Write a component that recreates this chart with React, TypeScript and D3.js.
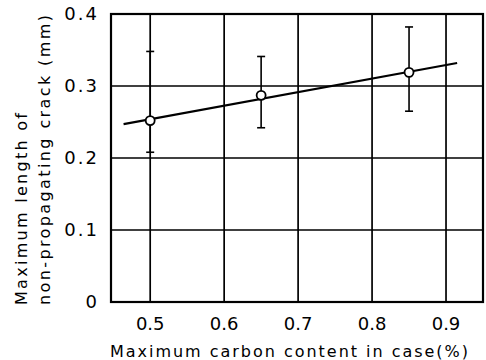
import React, { useEffect, useRef } from 'react';
import * as d3 from 'd3';

// carbon content (%) and measured crack length (mm)
const carbon = [0.5, 0.65, 0.85];
const crackMean = [0.252, 0.287, 0.319];
const crackHigh = [0.348, 0.341, 0.382];
const crackLow = [0.208, 0.242, 0.265];

// regression line end points
const fitX = [0.464, 0.915];
const fitY = [0.247, 0.332];

const xTicks = [0.5, 0.6, 0.7, 0.8, 0.9];
const yTicks = [0, 0.1, 0.2, 0.3, 0.4];
const yTickLabels = ['0', '0.1', '0.2', '0.3', '0.4'];

const xTitle = 'Maximum carbon content in case(%)';
const yTitle = ['Maximum length of', 'non-propagating crack (mm)'];

const FONT = '"DejaVu Sans", sans-serif';

const App = () => {
  const svgRef = useRef<SVGSVGElement>(null);

  useEffect(() => {
    const width = 486;
    const height = 360;
    const margin = { top: 14, right: 3, bottom: 58, left: 111 };

    const svg = d3.select(svgRef.current);
    svg.selectAll('*').remove();

    const x = d3.scaleLinear().domain([0.447, 0.95]).range([margin.left, width - margin.right]);
    const y = d3.scaleLinear().domain([0, 0.4]).range([height - margin.bottom, margin.top]);

    const g = svg.append('g');

    // grid
    g.selectAll('line.vgrid')
      .data(xTicks)
      .enter()
      .append('line')
      .attr('x1', d => x(d))
      .attr('x2', d => x(d))
      .attr('y1', y(0))
      .attr('y2', y(0.4))
      .attr('stroke', '#000')
      .attr('stroke-width', 1.7);

    g.selectAll('line.hgrid')
      .data(yTicks.slice(1, -1))
      .enter()
      .append('line')
      .attr('x1', x.range()[0])
      .attr('x2', x.range()[1])
      .attr('y1', d => y(d))
      .attr('y2', d => y(d))
      .attr('stroke', '#000')
      .attr('stroke-width', 1.5);

    // frame
    g.append('rect')
      .attr('x', x.range()[0])
      .attr('y', y(0.4))
      .attr('width', x.range()[1] - x.range()[0])
      .attr('height', y(0) - y(0.4))
      .attr('fill', 'none')
      .attr('stroke', '#000')
      .attr('stroke-width', 2.2);

    // tick labels
    g.selectAll('text.xt')
      .data(xTicks)
      .enter()
      .append('text')
      .attr('x', d => x(d))
      .attr('y', 330)
      .attr('text-anchor', 'middle')
      .style('font-family', FONT)
      .style('font-size', '18px')
      .style('fill', '#000')
      .text(d => d.toFixed(1));

    g.selectAll('text.yt')
      .data(yTicks)
      .enter()
      .append('text')
      .attr('x', 99)
      .attr('y', d => y(d))
      .attr('dy', '0.36em')
      .attr('text-anchor', 'end')
      .style('font-family', FONT)
      .style('font-size', '18px')
      .style('letter-spacing', '2px')
      .style('fill', '#000')
      .text((d, i) => yTickLabels[i]);

    // fitted line
    const line = d3.line<number>()
      .x(d => x(d))
      .y((d, i) => y(fitY[i]));
    g.append('path')
      .attr('d', line(fitX))
      .attr('fill', 'none')
      .attr('stroke', '#000')
      .attr('stroke-width', 2.2);

    // error bars
    carbon.forEach((c, i) => {
      const cx = x(c);
      g.append('line')
        .attr('x1', cx).attr('x2', cx)
        .attr('y1', y(crackLow[i])).attr('y2', y(crackHigh[i]))
        .attr('stroke', '#000').attr('stroke-width', 1.6);
      [crackLow[i], crackHigh[i]].forEach(v => {
        g.append('line')
          .attr('x1', cx - 4).attr('x2', cx + 4)
          .attr('y1', y(v)).attr('y2', y(v))
          .attr('stroke', '#000').attr('stroke-width', 1.6);
      });
    });

    g.selectAll('circle')
      .data(carbon)
      .enter()
      .append('circle')
      .attr('cx', d => x(d))
      .attr('cy', (d, i) => y(crackMean[i]))
      .attr('r', 4.5)
      .attr('fill', '#fff')
      .attr('stroke', '#000')
      .attr('stroke-width', 1.8);

    // axis titles
    g.append('text')
      .attr('x', 110)
      .attr('y', 357)
      .attr('textLength', 358)
      .attr('lengthAdjust', 'spacing')
      .style('font-family', FONT)
      .style('font-size', '16px')
      .style('fill', '#000')
      .text(xTitle);

    const titleLens = [192, 290];
    const titleX = [27, 50];
    yTitle.forEach((t, i) => {
      g.append('text')
        .attr('transform', `translate(${titleX[i]},305) rotate(-90)`)
        .attr('textLength', titleLens[i])
        .attr('lengthAdjust', 'spacing')
        .style('font-family', FONT)
        .style('font-size', '16px')
        .style('fill', '#000')
        .text(t);
    });
  }, []);

  return (
    <svg
      ref={svgRef}
      width={486}
      height={360}
      style={{ position: 'absolute', left: 0, top: 0, background: '#fff' }}
    />
  );
};

export default App;
